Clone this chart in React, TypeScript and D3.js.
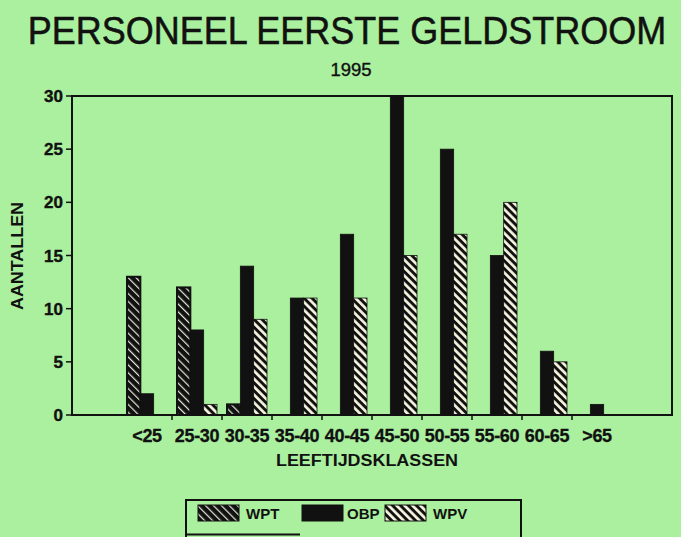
import React from "react";
import * as d3 from "d3";

const categories = ["<25", "25-30", "30-35", "35-40", "40-45", "45-50", "50-55", "55-60", "60-65", ">65"];
const seriesNames = ["WPT", "OBP", "WPV"];
const wpt = [13, 12, 1, 0, 0, 0, 0, 0, 0, 0];
const obp = [2, 8, 14, 11, 17, 30, 25, 15, 6, 1];
const wpv = [0, 1, 9, 11, 11, 15, 17, 20, 5, 0];
const yTicks = [0, 5, 10, 15, 20, 25, 30];

const W = 681;
const H = 537;
const BG = "rgb(170,240,158)";
const FONT = "'Liberation Sans', Arial, Helvetica, sans-serif";
const INK = "#111";

const plot = { left: 72, right: 672, top: 96, bottom: 415 };

export default function App() {
  const step = (plot.right - plot.left) / (categories.length + 2);
  const x = d3
    .scaleBand<string>()
    .domain(categories)
    .range([plot.left + step, plot.right - step])
    .paddingInner(0)
    .paddingOuter(0);
  const xs = d3
    .scaleBand<string>()
    .domain(seriesNames)
    .range([0, x.bandwidth()])
    .paddingInner(0)
    .paddingOuter(0.375);
  const y = d3.scaleLinear().domain([0, 30]).range([plot.bottom, plot.top]);

  const series = [
    { name: "WPT", values: wpt, fill: "url(#pWPT)" },
    { name: "OBP", values: obp, fill: INK },
    { name: "WPV", values: wpv, fill: "url(#pWPV)" },
  ];

  const boundaries = categories.slice(1).map((c) => x(c) as number);

  const legendItems = [
    { name: "WPT", fill: "url(#pWPT)", sx: 198, tx: 246 },
    { name: "OBP", fill: INK, sx: 302, tx: 347 },
    { name: "WPV", fill: "url(#pWPV)", sx: 385, tx: 433 },
  ];

  return (
    <svg
      width={W}
      height={H}
      style={{ position: "absolute", left: 0, top: 0, display: "block" }}
      fontFamily={FONT}
    >
      <defs>
        <pattern id="pWPT" width="5.6" height="5.6" patternUnits="userSpaceOnUse" patternTransform="rotate(-45)">
          <rect width="5.6" height="5.6" fill={INK} />
          <rect x="0" width="1.2" height="5.6" fill="#e6ead6" />
        </pattern>
        <pattern id="pWPV" width="5.6" height="5.6" patternUnits="userSpaceOnUse" patternTransform="rotate(-45)">
          <rect width="5.6" height="5.6" fill={INK} />
          <rect x="0" width="2.7" height="5.6" fill="#f6f4de" />
        </pattern>
      </defs>
      <rect width={W} height={H} fill={BG} />

      {/* Title */}
      <text
        x={347}
        y={44}
        textAnchor="middle"
        fontSize={36}
        fill={INK}
        stroke={INK}
        strokeWidth={0.5}
        transform="translate(0,-3.5) scale(1,1.08)"
      >
        PERSONEEL EERSTE GELDSTROOM
      </text>
      <text x={351} y={76} textAnchor="middle" fontSize={18.5} fill={INK} stroke={INK} strokeWidth={0.4}>
        1995
      </text>

      {/* Bars */}
      {series.map((s) =>
        s.values.map((v, i) =>
          v > 0 ? (
            <rect
              key={s.name + i}
              x={(x(categories[i]) as number) + (xs(s.name) as number)}
              y={y(v)}
              width={xs.bandwidth()}
              height={y(0) - y(v)}
              fill={s.fill}
              stroke={INK}
              strokeWidth={s.name === "WPT" ? 2 : 0.8}
            />
          ) : null
        )
      )}

      {/* Frame */}
      <rect
        x={plot.left}
        y={plot.top}
        width={plot.right - plot.left}
        height={plot.bottom - plot.top}
        fill="none"
        stroke={INK}
        strokeWidth={2}
      />

      {/* Y axis ticks */}
      {yTicks.map((t) => (
        <g key={t}>
          <line x1={plot.left - 6} x2={plot.left} y1={y(t)} y2={y(t)} stroke={INK} strokeWidth={1.5} />
          <text
            x={plot.left - 9}
            y={y(t)}
            dy="0.36em"
            textAnchor="end"
            fontSize={17}
            fontWeight="bold"
            fill={INK}
            stroke={INK}
            strokeWidth={0.4}
          >
            {t}
          </text>
        </g>
      ))}

      {/* X ticks */}
      {boundaries.map((b, i) => (
        <line key={i} x1={b} x2={b} y1={plot.bottom} y2={plot.bottom + 5} stroke={INK} strokeWidth={1.5} />
      ))}
      {categories.map((c) => (
        <text
          key={c}
          x={(x(c) as number) + x.bandwidth() / 2}
          y={442}
          textAnchor="middle"
          fontSize={18}
          fontWeight="bold"
          fill={INK}
          stroke={INK}
          strokeWidth={0.3}
          letterSpacing={-0.3}
        >
          {c}
        </text>
      ))}

      {/* Axis titles */}
      <text
        x={367}
        y={466}
        textAnchor="middle"
        fontSize={16}
        fontWeight="bold"
        fill={INK}
        textLength={182}
        lengthAdjust="spacingAndGlyphs"
      >
        LEEFTIJDSKLASSEN
      </text>
      <text
        transform={`translate(23,256) rotate(-90)`}
        textAnchor="middle"
        fontSize={16}
        fontWeight="bold"
        fill={INK}
        textLength={108}
        lengthAdjust="spacingAndGlyphs"
      >
        AANTALLEN
      </text>

      {/* Legend */}
      <rect x={186} y={500} width={335} height={50} fill="none" stroke={INK} strokeWidth={2} />
      {legendItems.map((l) => (
        <g key={l.name}>
          <rect x={l.sx} y={505} width={41} height={16} fill={l.fill} stroke={INK} strokeWidth={1} />
          <text x={l.tx} y={519} fontSize={15} fontWeight="bold" fill={INK}>
            {l.name}
          </text>
        </g>
      ))}
      <line x1={186} x2={300} y1={534.5} y2={534.5} stroke={INK} strokeWidth={2} />
    </svg>
  );
}
